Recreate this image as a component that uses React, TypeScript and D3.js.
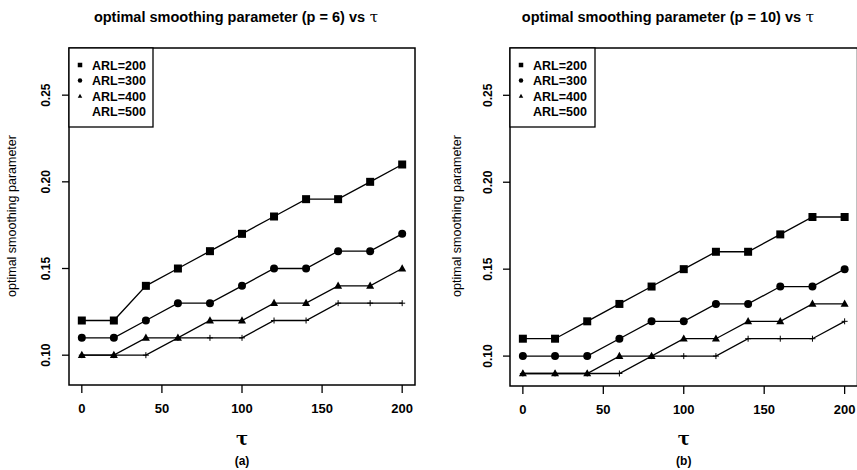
import React from "react";
import * as d3 from "d3";

const tau = [0, 20, 40, 60, 80, 100, 120, 140, 160, 180, 200];

// Panel (a): p = 6
const p6Arl200 = [0.12, 0.12, 0.14, 0.15, 0.16, 0.17, 0.18, 0.19, 0.19, 0.2, 0.21];
const p6Arl300 = [0.11, 0.11, 0.12, 0.13, 0.13, 0.14, 0.15, 0.15, 0.16, 0.16, 0.17];
const p6Arl400 = [0.1, 0.1, 0.11, 0.11, 0.12, 0.12, 0.13, 0.13, 0.14, 0.14, 0.15];
const p6Arl500 = [0.1, 0.1, 0.1, 0.11, 0.11, 0.11, 0.12, 0.12, 0.13, 0.13, 0.13];

// Panel (b): p = 10
const p10Arl200 = [0.11, 0.11, 0.12, 0.13, 0.14, 0.15, 0.16, 0.16, 0.17, 0.18, 0.18];
const p10Arl300 = [0.1, 0.1, 0.1, 0.11, 0.12, 0.12, 0.13, 0.13, 0.14, 0.14, 0.15];
const p10Arl400 = [0.09, 0.09, 0.09, 0.1, 0.1, 0.11, 0.11, 0.12, 0.12, 0.13, 0.13];
const p10Arl500 = [0.09, 0.09, 0.09, 0.09, 0.1, 0.1, 0.1, 0.11, 0.11, 0.11, 0.12];

const seriesLabels = ["ARL=200", "ARL=300", "ARL=400", "ARL=500"];
const markerKinds = ["square", "circle", "triangle", "plus"];
const xTicks = [0, 50, 100, 150, 200];
const yTicks = [0.1, 0.15, 0.2, 0.25];
const xDomain = [-8, 208];
const yDomain = [0.0828, 0.2772];

const SANS = "'Liberation Sans', Arial, Helvetica, sans-serif";
const SERIF = "'DejaVu Serif', 'Liberation Serif', serif";

function Marker({ kind, x, y, s }: { kind: string; x: number; y: number; s: number }) {
  if (kind === "square") return <rect x={x - s / 2} y={y - s / 2} width={s} height={s} fill="#000" />;
  if (kind === "circle") return <circle cx={x} cy={y} r={s / 2} fill="#000" />;
  if (kind === "triangle") {
    const h = s * 0.9;
    return <path d={`M${x},${y - h * 0.6}L${x + s / 2},${y + h * 0.4}L${x - s / 2},${y + h * 0.4}Z`} fill="#000" />;
  }
  return (
    <path d={`M${x - s / 2},${y}H${x + s / 2}M${x},${y - s / 2}V${y + s / 2}`} stroke="#000" strokeWidth={1} />
  );
}

function Panel({
  series,
  left,
  right,
  top,
  bottom,
  title,
  titleX,
  tag,
  labelX,
  tickLabelX,
  legendRight,
}: {
  series: number[][];
  left: number;
  right: number;
  top: number;
  bottom: number;
  title: string;
  titleX: number;
  tag: string;
  labelX: number;
  tickLabelX: number;
  legendRight: number;
}) {
  const x = d3.scaleLinear().domain(xDomain).range([left, right]);
  const y = d3.scaleLinear().domain(yDomain).range([bottom, top]);
  const line = d3
    .line<number>()
    .x((_, i) => x(tau[i]))
    .y((d) => y(d));
  const fmt = d3.format(".2f");
  const cx = x(100);
  const midY = 216;
  return (
    <g>
      <text x={titleX} y={22} textAnchor="middle" fontFamily={SANS} fontWeight="bold" fontSize={14.5}>
        {title}
        <tspan fontFamily={SERIF} fontWeight="normal" fontSize={15}>
          {" τ"}
        </tspan>
      </text>
      <rect x={left} y={top} width={right - left} height={bottom - top} fill="none" stroke="#000" strokeWidth={1.5} />
      {series.map((s, k) => (
        <g key={k}>
          <path d={line(s) || ""} fill="none" stroke="#000" strokeWidth={1.3} />
          {s.map((v, i) => (
            <Marker key={i} kind={markerKinds[k]} x={x(tau[i])} y={y(v)} s={k === 3 ? 6 : 8} />
          ))}
        </g>
      ))}
      {xTicks.map((t) => (
        <g key={t}>
          <line x1={x(t)} x2={x(t)} y1={bottom} y2={bottom + 8} stroke="#000" strokeWidth={1.3} />
          <text x={x(t)} y={bottom + 28} textAnchor="middle" fontFamily={SANS} fontWeight="bold" fontSize={13}>
            {t}
          </text>
        </g>
      ))}
      {yTicks.map((t) => (
        <g key={t}>
          <line x1={left - 7} x2={left} y1={y(t)} y2={y(t)} stroke="#000" strokeWidth={1.3} />
          <text
            transform={`translate(${tickLabelX},${y(t)}) rotate(-90)`}
            textAnchor="middle"
            fontFamily={SANS}
            fontWeight="bold"
            fontSize={12}
          >
            {fmt(t)}
          </text>
        </g>
      ))}
      <text
        transform={`translate(${labelX},${midY}) rotate(-90)`}
        textAnchor="middle"
        fontFamily={SANS}
        fontSize={12.5}
      >
        optimal smoothing parameter
      </text>
      <text x={cx} y={445} textAnchor="middle" fontFamily={SERIF} fontWeight="bold" fontSize={18}>
        τ
      </text>
      <text x={cx} y={465} textAnchor="middle" fontFamily={SANS} fontWeight="bold" fontSize={12}>
        {tag}
      </text>
      <rect x={left} y={top} width={legendRight - left} height={79} fill="#fff" stroke="#000" strokeWidth={1.3} />
      {seriesLabels.map((lab, k) => (
        <g key={lab}>
          {k < 3 && <Marker kind={markerKinds[k]} x={left + 11} y={top + 17 + k * 15.6} s={4.5} />}
          <text x={left + 23} y={top + 21.5 + k * 15.6} fontFamily={SANS} fontWeight="bold" fontSize={12.5}>
            {lab}
          </text>
        </g>
      ))}
    </g>
  );
}

export default function App() {
  return (
    <svg
      width={857}
      height={470}
      viewBox="0 0 857 470"
      style={{ position: "absolute", left: 0, top: 0, background: "#fff" }}
    >
      <rect x={0} y={0} width={857} height={470} fill="#fff" />
      <Panel
        series={[p6Arl200, p6Arl300, p6Arl400, p6Arl500]}
        left={69}
        right={415}
        top={48}
        bottom={385}
        title="optimal smoothing parameter (p = 6) vs"
        titleX={236}
        tag="(a)"
        labelX={16}
        tickLabelX={50}
        legendRight={153}
      />
      <Panel
        series={[p10Arl200, p10Arl300, p10Arl400, p10Arl500]}
        left={510}
        right={857.5}
        top={48}
        bottom={386}
        title="optimal smoothing parameter (p = 10) vs"
        titleX={668}
        tag="(b)"
        labelX={461}
        tickLabelX={492}
        legendRight={595}
      />
    </svg>
  );
}
